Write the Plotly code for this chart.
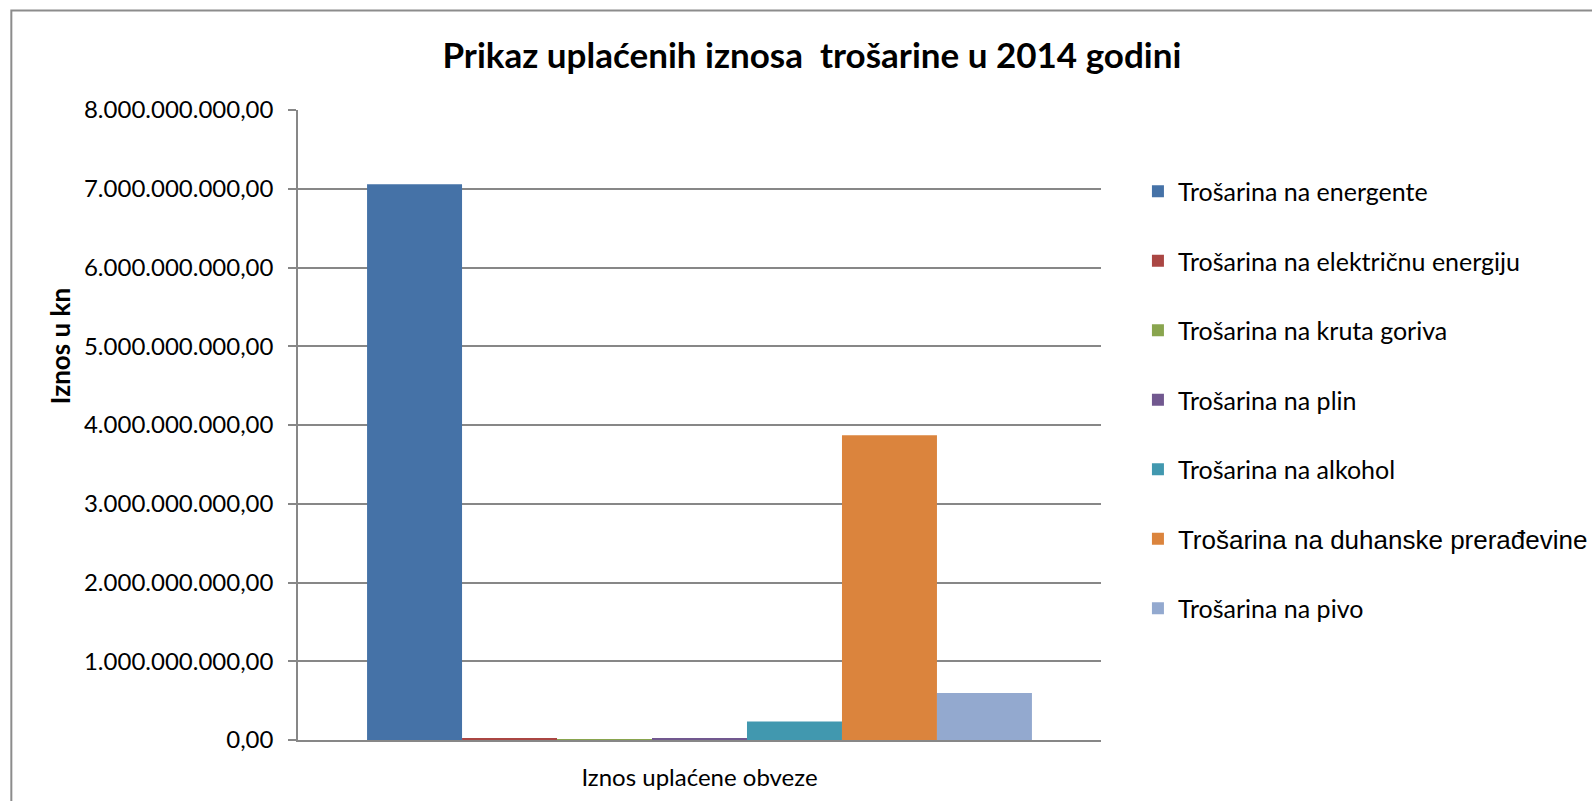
import plotly.graph_objects as go

# Data (kn)
category = ["Iznos uplaćene obveze"]
series_names = [
    "Trošarina na energente",
    "Trošarina na električnu energiju",
    "Trošarina na kruta goriva",
    "Trošarina na plin",
    "Trošarina na alkohol",
    "Trošarina na duhanske prerađevine",
    "Trošarina na pivo",
]
series_values = [7.056e9, 0.025e9, 0.002e9, 0.025e9, 0.235e9, 3.87e9, 0.597e9]
series_colors = ["#4572A7", "#AA4643", "#89A54E", "#71588F", "#4198AF", "#DB843D", "#93A9CF"]

GRID = "#878787"
FONT = "Lato"

fig = go.Figure()
for i, (name, val, col) in enumerate(zip(series_names, series_values, series_colors)):
    label = name
    # this entry is set in a different font in the original
    if "duhanske" in name:
        label = f'<span style="font-family:Liberation Sans;font-size:26px">{name}</span>'
    fig.add_trace(go.Bar(
        x=category, y=[val],
        name=label,
        marker=dict(color=col, line=dict(width=0)),
        legendgroup=f"g{i}",
    ))

fig.update_layout(
    width=1592, height=801,
    margin=dict(l=298, r=491, t=110, b=61, autoexpand=False),
    paper_bgcolor="white",
    plot_bgcolor="white",
    separators=",.",
    barmode="group",
    bargap=0.172,
    bargroupgap=0,
    font=dict(family=FONT, size=24, color="black"),
    title=dict(
        text="<b>Prikaz uplaćenih iznosa  trošarine u 2014 godini</b>",
        x=0.51, xanchor="center", y=0.931, yanchor="middle",
        font=dict(family=FONT, size=35, color="black"),
    ),
    legend=dict(
        x=1.046, xanchor="left", y=0.907, yanchor="top",
        font=dict(family=FONT, size=25, color="black"),
        tracegroupgap=34,
        bgcolor="rgba(0,0,0,0)",
    ),
    xaxis=dict(
        showline=True, linecolor=GRID, linewidth=1.5,
        showgrid=False, ticks="", ticklabelstandoff=15,
        tickfont=dict(family=FONT, size=24), automargin=False,
    ),
    yaxis=dict(
        range=[0, 8e9], dtick=1e9, tickformat=",.2f",
        showgrid=True, gridcolor=GRID, gridwidth=1.5,
        showline=True, linecolor=GRID, linewidth=1.5,
        ticks="outside", ticklen=8, tickcolor=GRID, tickwidth=1.5,
        ticklabelstandoff=10, zeroline=False,
        tickfont=dict(family=FONT, size=24), automargin=False,
    ),
    annotations=[dict(
        text="<b>Iznos u kn</b>", textangle=-90,
        xref="paper", yref="paper", x=-0.2964, y=0.625,
        xanchor="center", yanchor="middle",
        showarrow=False, font=dict(family=FONT, size=26, color="black"),
    )],
    shapes=[dict(
        type="rect", xref="paper", yref="paper",
        x0=-0.357, x1=2.0, y0=-1.0, y1=1.158,
        line=dict(color="#8c8c8c", width=2), fillcolor="rgba(0,0,0,0)",
    )],
)

fig.write_html("out.html", config={"displayModeBar": False},
               post_script="document.body.style.margin='0';")
